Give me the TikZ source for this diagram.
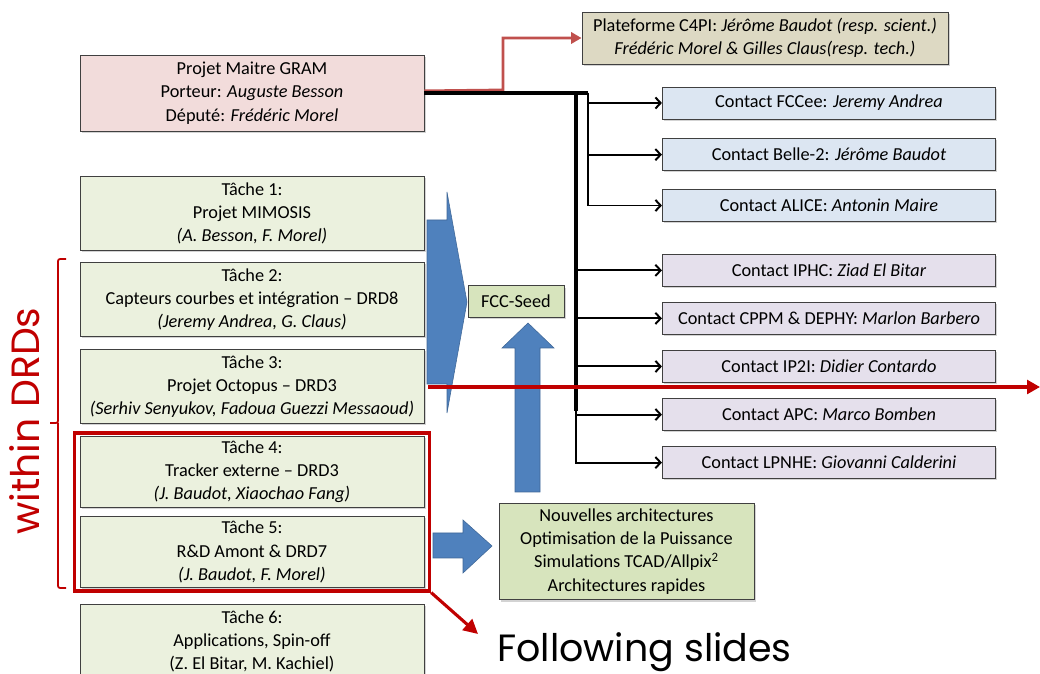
\documentclass[tikz,border=0pt]{standalone}
\usepackage{fontspec}
\setmainfont{Carlito}
\newfontfamily\slidefont{Poppins}
\usepackage{xcolor}
\usepackage{tikz}
\usetikzlibrary{positioning,arrows.meta,shadows,fit}

\definecolor{gramrose}{HTML}{F2DCDB}
\definecolor{tachevert}{HTML}{EBF1DE}
\definecolor{seedvert}{HTML}{D7E4BD}
\definecolor{plateformebeige}{HTML}{DDD9C3}
\definecolor{contactbleu}{HTML}{DCE6F2}
\definecolor{contactlilas}{HTML}{E5E0EC}
\definecolor{flechebleu}{HTML}{4F81BD}
\definecolor{rougefonce}{HTML}{C00000}
\definecolor{rougeclair}{HTML}{C0504D}

\tikzset{
    boite/.style={draw=black!75,
        line width=0.6pt,
        align=center,
        inner sep=0pt,
        font=\fontsize{13}{16.5}\selectfont,
        drop shadow={shadow xshift=1.2pt, shadow yshift=-1.2pt, opacity=0.35}
    },
    tache/.style={boite, fill=tachevert, minimum width=8.6cm, minimum height=1.85cm},
    contact/.style={boite, minimum width=8.33cm, minimum height=0.8cm},
    liaison/.style={line width=1.4pt, -{Straight Barb[length=1.3mm,width=2.8mm]}},
    tronc/.style={line width=2.8pt},
    flechebloc/.style={fill=flechebleu, draw=flechebleu!80!black, line width=0.4pt}
}

\begin{document}
\begin{tikzpicture}[x=0.025cm, y=-0.025cm]

    \useasboundingbox (0,0) rectangle (1040,674);

    % fleches bleues
    \filldraw[flechebloc] (427,220) -- (447,220) -- (447,192) -- (467,302)
        -- (447,413) -- (447,384) -- (427,384) -- cycle;
    \filldraw[flechebloc] (515,492) -- (515,348) -- (502,348) -- (528,323)
        -- (554,348) -- (540,348) -- (540,492) -- cycle;
    \filldraw[flechebloc] (433,533) -- (463,533) -- (463,520) -- (492,546)
        -- (463,573) -- (463,558) -- (433,558) -- cycle;

    % projet maitre
    \node [boite,
        fill=gramrose,
        minimum width=8.6cm,
        minimum height=1.9cm
    ] (gram) at (252,93) {Projet Maitre GRAM\\Porteur: \textit{Auguste Besson}\\Député: \textit{Frédéric Morel}};

    % plateforme
    \node [boite,
        fill=plateformebeige,
        minimum width=9.15cm,
        minimum height=1.3cm
    ] (plateforme) at (765,38) {Plateforme C4PI: \textit{Jérôme Baudot (resp. scient.)}\\\textit{Frédéric Morel \& Gilles Claus(resp. tech.)}};

    % contacts
    \node [contact, fill=contactbleu] (fccee) at (829,103) {Contact FCCee: \textit{Jeremy Andrea}};
    \node [contact, fill=contactbleu, below=0.47cm of fccee] (belle) {Contact Belle-2: \textit{Jérôme Baudot}};
    \node [contact, fill=contactbleu, below=0.45cm of belle] (alice) {Contact ALICE: \textit{Antonin Maire}};
    \node [contact, fill=contactlilas, below=0.8cm of alice] (iphc) {Contact IPHC: \textit{Ziad El Bitar}};
    \node [contact, fill=contactlilas, below=0.38cm of iphc] (cppm) {Contact CPPM \& DEPHY: \textit{Marlon Barbero}};
    \node [contact, fill=contactlilas, below=0.38cm of cppm] (ip2i) {Contact IP2I: \textit{Didier Contardo}};
    \node [contact, fill=contactlilas, below=0.38cm of ip2i] (apc) {Contact APC: \textit{Marco Bomben}};
    \node [contact, fill=contactlilas, below=0.38cm of apc] (lpnhe) {Contact LPNHE: \textit{Giovanni Calderini}};

    % taches
    \node [tache] (tache1) at (252,213.5) {Tâche 1:\\Projet MIMOSIS\\\textit{(A. Besson, F. Morel)}};
    \node [tache, below=0.28cm of tache1] (tache2) {Tâche 2:\\Capteurs courbes et intégration -- DRD8\\\textit{(Jeremy Andrea, G. Claus)}};
    \node [tache, below=0.3cm of tache2] (tache3) {Tâche 3:\\Projet Octopus -- DRD3\\\textit{(Serhiv Senyukov, Fadoua Guezzi Messaoud)}};
    \node [tache, minimum height=1.78cm, below=0.3cm of tache3] (tache4) {Tâche 4:\\Tracker externe -- DRD3\\\textit{(J. Baudot, Xiaochao Fang)}};
    \node [tache, minimum height=1.78cm, below=0.2cm of tache4] (tache5) {Tâche 5:\\R\&D Amont \& DRD7\\\textit{(J. Baudot, F. Morel)}};
    \node [tache, below=0.4cm of tache5] (tache6) {Tâche 6:\\Applications, Spin-off\\(Z. El Bitar, M. Kachiel)};

    % resultats
    \node [boite,
        fill=seedvert,
        minimum width=2.4cm,
        minimum height=0.78cm
    ] (seed) at (516,301.5) {FCC-Seed};

    \node [boite,
        fill=seedvert,
        minimum width=6.375cm,
        minimum height=2.42cm
    ] (archi) at (626.5,551.5) {Nouvelles architectures\\Optimisation de la Puissance\\Simulations TCAD/Allpix\textsuperscript{2}\\Architectures rapides};

    % cadre DRD
    \node [draw=rougefonce,
        line width=2.6pt,
        inner xsep=3.5pt,
        inner ysep=2pt,
        fit=(tache4)(tache5)
    ] (cadredrd) {};

    \draw[rougefonce, line width=1.3pt, rounded corners=1.5pt]
        (66,259) -| (58,423) -- (50,423) (58,423) |- (66,588);

    \node [rotate=90,
        text=rougefonce,
        font=\slidefont\fontsize{28}{30}\selectfont
    ] (drds) at (25,421) {within DRDs};

    \node [anchor=base west,
        inner sep=0pt,
        font=\slidefont\fontsize{27}{30}\selectfont
    ] (suite) at (497,662) {Following slides};

    % liaisons
    \coordinate (coudec4pi) at (503,90);
    \coordinate (tronc1) at (576,93);
    \coordinate (tronc2) at (588,93);
    \coordinate (troncbas) at (576,411);

    \draw[rougeclair, line width=2pt, -{Triangle[length=2.6mm,width=2.8mm]}]
        ([yshift=1.5pt]gram.east) -- (coudec4pi) |- (plateforme.west);

    \draw[tronc] (gram.east) -- (tronc2);
    \draw[tronc] (tronc1) -- (troncbas);

    \draw[liaison] (tronc2) |- (fccee.west);
    \draw[liaison] (tronc2) |- (belle.west);
    \draw[liaison] (tronc2) |- (alice.west);

    \draw[liaison] (tronc1 |- iphc.west) -- (iphc.west);
    \draw[liaison] (tronc1 |- cppm.west) -- (cppm.west);
    \draw[liaison] (tronc1 |- ip2i.west) -- (ip2i.west);
    \draw[liaison] (tronc1 |- apc.west) -- (apc.west);
    \draw[liaison] (troncbas) |- (lpnhe.west);

    % fleches rouges
    \coordinate (rougedebut) at (428,387);
    \coordinate (rougefin) at (1040,387);
    \coordinate (suitefleche) at (478,634);

    \draw[rougefonce, line width=2.2pt, -{Triangle[length=3.2mm,width=3.4mm]}]
        (rougedebut) -- (rougefin);

    \draw[rougefonce, line width=2.2pt, -{Triangle[length=3.6mm,width=3.6mm]}]
        (cadredrd.south east) -- (suitefleche);

\end{tikzpicture}
\end{document}
